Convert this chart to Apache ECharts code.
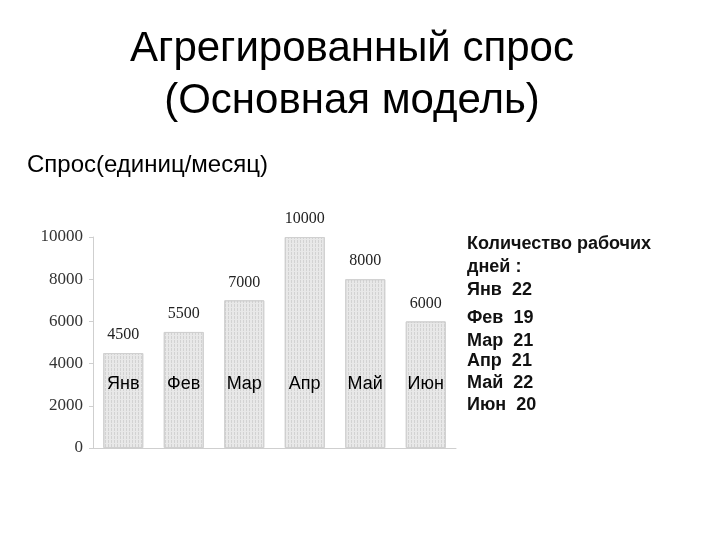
<!DOCTYPE html>
<html>
<head>
<meta charset="utf-8">
<script src="https://cdn.jsdelivr.net/npm/echarts@6/dist/echarts.min.js"></script>
<style>
	html, body { margin: 0; padding: 0; background: #fff; }
	#main { width: 720px; height: 540px; }
</style>
</head>
<body>
<div id="main"></div>
<script>
// данные графика
var months = ['Янв', 'Фев', 'Мар', 'Апр', 'Май', 'Июн'];
var demand = [4500, 5500, 7000, 10000, 8000, 6000];
var workDays = [22, 19, 21, 21, 22, 20];
var yTicks = [0, 2000, 4000, 6000, 8000, 10000];

var myChart = echarts.init(document.getElementById('main'));

// текст справа: количество рабочих дней
var sideFont = 'bold 18px "Liberation Sans", Arial';
var sideY = [291, 319, 342, 362, 384, 406];
var sideText = [{
	type: 'text', left: 467, top: 235,
	style: { text: 'Количество рабочих', font: sideFont, fill: '#111' }
}, {
	type: 'text', left: 467, top: 258,
	style: { text: 'дней :', font: sideFont, fill: '#111' }
}];
months.forEach(function (m, i) {
	sideText.push({
		type: 'text', left: 467, top: sideY[i] - 10,
		style: { text: m + '  ' + workDays[i], font: sideFont, fill: '#111' }
	});
});

var option = {
	animation: false,
	backgroundColor: '#fff',
	title: [{
		text: 'Агрегированный спрос\n(Основная модель)',
		left: 347, top: 18, textAlign: 'center',
		textStyle: { fontFamily: '"Liberation Sans", Arial', fontWeight: 'normal', fontSize: 42, lineHeight: 52, color: '#000' }
	}, {
		text: 'Спрос(единиц/месяц)',
		left: 22, top: 148,
		textStyle: { fontFamily: '"Liberation Sans", Arial', fontWeight: 'normal', fontSize: 24, color: '#000' }
	}],
	graphic: sideText,
	grid: { left: 93, right: 264, top: 237, bottom: 92 },
	xAxis: {
		type: 'category',
		data: months,
		axisLine: { lineStyle: { color: '#cfcfcf' } },
		axisTick: { length: 6, lineStyle: { color: '#cfcfcf' } },
		axisLabel: { show: false }
	},
	yAxis: {
		type: 'value',
		min: yTicks[0],
		max: yTicks[yTicks.length - 1],
		interval: 2000,
		splitLine: { show: false },
		axisLine: { show: true, lineStyle: { color: '#cfcfcf' } },
		axisTick: { show: true, length: 4, lineStyle: { color: '#cfcfcf' } },
		axisLabel: {
			margin: 10,
			formatter: function (v) { return String(v); },
			fontFamily: '"Liberation Serif", "Times New Roman", serif',
			fontSize: 17, color: '#333'
		}
	},
	series: [{
		type: 'bar',
		data: demand,
		barWidth: 40,
		itemStyle: {
			color: '#e8e8e8',
			borderColor: '#d0d0d0',
			borderWidth: 1,
			decal: {
				symbol: 'rect', symbolSize: 1,
				dashArrayX: [1, 2], dashArrayY: [3, 1],
				color: 'rgba(170,170,170,0.35)'
			}
		},
		label: {
			show: true, position: 'top', distance: 10,
			fontFamily: '"Liberation Serif", "Times New Roman", serif',
			fontSize: 16, color: '#222'
		}
	}, {
		// подписи месяцев внутри столбцов
		type: 'bar',
		data: demand,
		barWidth: 40,
		barGap: '-100%',
		itemStyle: { color: 'rgba(0,0,0,0)' },
		label: {
			show: true, position: 'insideBottom', distance: 55,
			formatter: function (p) { return p.name; },
			fontFamily: '"Liberation Sans", Arial',
			fontSize: 18, color: '#000'
		}
	}]
};
myChart.setOption(option);
</script>
</body>
</html>
